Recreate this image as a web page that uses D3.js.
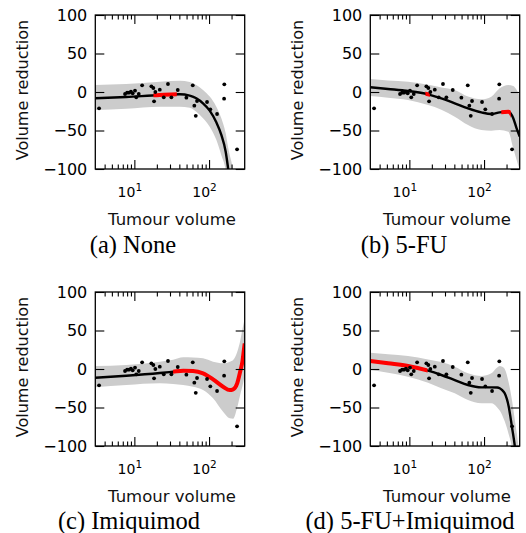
<!DOCTYPE html>
<html><head><meta charset="utf-8">
<script src="https://cdn.jsdelivr.net/npm/d3@7"></script>
<style>body{margin:0;background:#fff} svg{display:block}</style>
</head><body><svg id="c" width="526" height="533"></svg>
<script>
// ---- data ----
const tumourVolume   = [3.37, 7.5, 8.0, 8.5, 9.0, 9.5, 10.2, 10.6, 11.45, 12.7, 16.9, 17.96, 19.1, 18.35, 21.9, 24.75, 28.2, 31.3, 38.1, 49.7, 60.5, 63.5, 69, 66.4, 94, 104, 128, 160, 159, 237];
const volumeReduction = [-21.2, -2.6, -0.9, -0.9, 0.4, -1.7, 1.7, -6.9, -2.6, 8.7, 7.4, 5.2, 0, -12.1, 3, -6.9, 10.4, -6.9, 2.6, -7.4, 8.7, -17.7, -11.7, -31, -13, -22.5, -28.6, 10, -8.7, -74.4];

const yTicks = [-100, -50, 0, 50, 100];
const yTickLabels = ["\u2212100", "\u221250", "0", "50", "100"];
const xMajorTicks = [10, 100];
const xTickExponents = ["1", "2"];
const xMinorTicks = [4, 5, 6, 7, 8, 9, 20, 30, 40, 50, 60, 70, 80, 90, 200];
const captions = ["(a) None", "(b) 5-FU", "(c) Imiquimod", "(d) 5-FU+Imiquimod"];

const noneX    = [3, 7.8, 21.9, 40.5, 55, 67.5, 83, 102, 125, 146, 167, 181, 210, 240, 300];
const noneMean = [-8.2, -6.5, -3.9, -3, -4.8, -8.2, -14.7, -24.2, -39.4, -55.8, -77.5, -101, -150, -210, -330];
const noneHi   = [9.1, 10.4, 13.4, 14.7, 13, 9.1, 2.6, -6, -19, -34, -53.6, -73, -101, -140, -250];
const noneLo   = [-23.4, -21.6, -19, -19, -20.3, -25.5, -34, -45, -62, -82, -101, -125, -190, -260, -400];
const noneRed  = [[18, 37]];

const fuX    = [3, 5.19, 9.6, 17.8, 26.8, 40.5, 61, 92, 125, 162, 211, 246, 272, 300];
const fuMean = [6.1, 3.9, 1.3, -3, -8.2, -14.7, -21.2, -26.4, -28.6, -26.4, -25.5, -34, -47, -58];
const fuHi   = [16.9, 15, 13.4, 9.5, 6, 2.6, -6, -9.5, -6.1, 4.8, 9.1, 7.8, 3, -5];
const fuLo   = [-5.2, -7.5, -10.4, -17, -23, -32, -42.9, -49.4, -50.2, -49.4, -51.5, -73, -88, -101];
const fuRed  = [[16.4, 18.8], [170, 228]];

const imiX    = [3, 7.8, 21.9, 33, 45, 61, 83, 113, 154, 189, 210, 238, 263, 280, 292, 300];
const imiMean = [-11.3, -8.7, -5.2, -3.5, -2.2, -2.5, -5.6, -13.4, -23, -27.3, -26.4, -18.6, -2, 10, 24, 33];
const imiHi   = [3.9, 5.2, 9.5, 12, 15.2, 15, 13.9, 9.5, 7.4, 9.5, 11.7, 22, 38, 52, 60, 66];
const imiLo   = [-23.8, -20.8, -18.6, -19.5, -20.8, -23, -27.3, -38, -55.4, -64, -64.5, -50, -32, -22, -14, -8];
const imiRed  = [[33, 300]];

const comboX    = [3, 5.19, 9.6, 17.8, 26.8, 40.5, 61, 92, 125, 150, 162, 175, 189, 214, 236, 257, 280, 300];
const comboMean = [10.4, 7.4, 3.9, -2.2, -7.8, -14.3, -20.8, -23.8, -23.8, -24, -25, -27.5, -31.6, -49, -75, -99, -135, -175];
const comboHi   = [21.2, 19, 16.9, 12.5, 9, 3, -5.6, -9.1, -5.6, 2, 3.9, 3, 0, -18, -40, -65, -90, -115];
const comboLo   = [-1.3, -5, -10, -18, -25, -31.6, -40.3, -44.6, -44.6, -50, -54, -60, -68, -85, -102, -130, -170, -210];
const comboRed  = [[3, 17.5]];

// ---- layout ----
const W = 149.4, H = 154;
const panels = [
  {left: 95.3,  top: 15,  cx: noneX,  mean: noneMean,  hi: noneHi,  lo: noneLo,  red: noneRed,  capX: 133, capY: 253},
  {left: 370.3, top: 15,  cx: fuX,    mean: fuMean,    hi: fuHi,    lo: fuLo,    red: fuRed,    capX: 404, capY: 253},
  {left: 95.3,  top: 292, cx: imiX,   mean: imiMean,   hi: imiHi,   lo: imiLo,   red: imiRed,   capX: 129, capY: 529},
  {left: 370.3, top: 292, cx: comboX, mean: comboMean, hi: comboHi, lo: comboLo, red: comboRed, capX: 410, capY: 529}
];
const SANS = "DejaVu Sans, Bitstream Vera Sans, sans-serif";
const SERIF = "Liberation Serif, Times New Roman, serif";

const svg = d3.select("#c");
svg.append("rect").attr("width", 526).attr("height", 533).attr("fill", "#fff");

const x = d3.scaleLog().domain([3, 300]).range([0, W]);
const y = d3.scaleLinear().domain([-100, 100]).range([H, 0]);
const pts = tumourVolume.map((v, k) => ({x: v, y: volumeReduction[k]}));

function styleAxis(sel) {
  sel.select(".domain").remove();
  sel.selectAll("line").attr("stroke", "#000").attr("stroke-width", 1.1);
}

panels.forEach((p, i) => {
  const g = svg.append("g").attr("transform", `translate(${p.left},${p.top})`);
  const clipId = "clip" + i;
  g.append("clipPath").attr("id", clipId).append("rect").attr("width", W).attr("height", H);
  const rows = p.cx.map((v, k) => ({x: v, m: p.mean[k], lo: p.lo[k], hi: p.hi[k]}));
  const area = d3.area().x(d => x(d.x)).y0(d => y(d.lo)).y1(d => y(d.hi)).curve(d3.curveMonotoneX);
  const line = d3.line().x(d => x(d.x)).y(d => y(d.m)).curve(d3.curveMonotoneX);
  const plot = g.append("g").attr("clip-path", `url(#${clipId})`);
  plot.append("path").attr("d", area(rows)).attr("fill", "#cccccc");
  plot.append("path").attr("d", line(rows)).attr("fill", "none").attr("stroke", "#000").attr("stroke-width", 2.4);
  p.red.forEach((r, j) => {
    const id = `red${i}_${j}`;
    const x0 = x(r[0]), x1 = x(r[1]);
    g.append("clipPath").attr("id", id).append("rect").attr("x", x0).attr("y", -10).attr("width", x1 - x0).attr("height", H + 20);
    plot.append("g").attr("clip-path", `url(#${id})`).append("path")
      .attr("d", line(rows)).attr("fill", "none").attr("stroke", "#ff0000").attr("stroke-width", 4);
  });
  plot.selectAll("circle").data(pts).join("circle")
    .attr("cx", d => x(d.x)).attr("cy", d => y(d.y)).attr("r", 1.9).attr("fill", "#000");

  // axes
  const left = g.append("g").call(d3.axisLeft(y).tickValues(yTicks).tickSize(-9).tickPadding(8)
      .tickFormat(d => yTickLabels[yTicks.indexOf(d)]))
    .attr("font-size", 16).attr("font-family", SANS);
  styleAxis(left);
  left.selectAll("text").attr("fill", "#000");
  const right = g.append("g").attr("transform", `translate(${W},0)`)
    .call(d3.axisRight(y).tickValues(yTicks).tickSize(-9).tickFormat(""));
  styleAxis(right);
  const top1 = g.append("g").call(d3.axisTop(x).tickValues(xMajorTicks).tickSize(-9).tickFormat(""));
  styleAxis(top1);
  const top2 = g.append("g").call(d3.axisTop(x).tickValues(xMinorTicks).tickSize(-4.5).tickFormat(""));
  styleAxis(top2);
  const bot2 = g.append("g").attr("transform", `translate(0,${H})`)
    .call(d3.axisBottom(x).tickValues(xMinorTicks).tickSize(-4.5).tickFormat(""));
  styleAxis(bot2);
  const bot1 = g.append("g").attr("transform", `translate(0,${H})`)
    .call(d3.axisBottom(x).tickValues(xMajorTicks).tickSize(-9).tickFormat(() => ""))
    .attr("font-family", SANS);
  styleAxis(bot1);
  bot1.selectAll("text").each(function(d) {
    const t = d3.select(this).text(null).attr("y", 27.7).attr("dy", null).attr("x", -5)
      .attr("fill", "#000").attr("font-size", 14).attr("text-anchor", "middle");
    t.append("tspan").text("10");
    t.append("tspan").attr("font-size", 10.5).attr("dy", -5.8).text(xTickExponents[xMajorTicks.indexOf(d)]);
  });

  // spines
  g.append("rect").attr("width", W).attr("height", H).attr("fill", "none")
    .attr("stroke", "#000").attr("stroke-width", 1.3);

  // labels
  g.append("text").attr("transform", `translate(-67,${H / 2 - 2}) rotate(-90)`)
    .attr("text-anchor", "middle").attr("font-family", SANS).attr("font-size", 16).attr("fill", "#111")
    .text("Volume reduction");
  g.append("text").attr("x", W / 2 + 2).attr("y", H + 56)
    .attr("text-anchor", "middle").attr("font-family", SANS).attr("font-size", 16.5).attr("fill", "#111")
    .text("Tumour volume");

  svg.append("text").attr("x", p.capX).attr("y", p.capY).attr("text-anchor", "middle")
    .attr("font-family", SERIF).attr("font-size", 24.5).attr("fill", "#000").text(captions[i]);
});
</script>
</body></html>
